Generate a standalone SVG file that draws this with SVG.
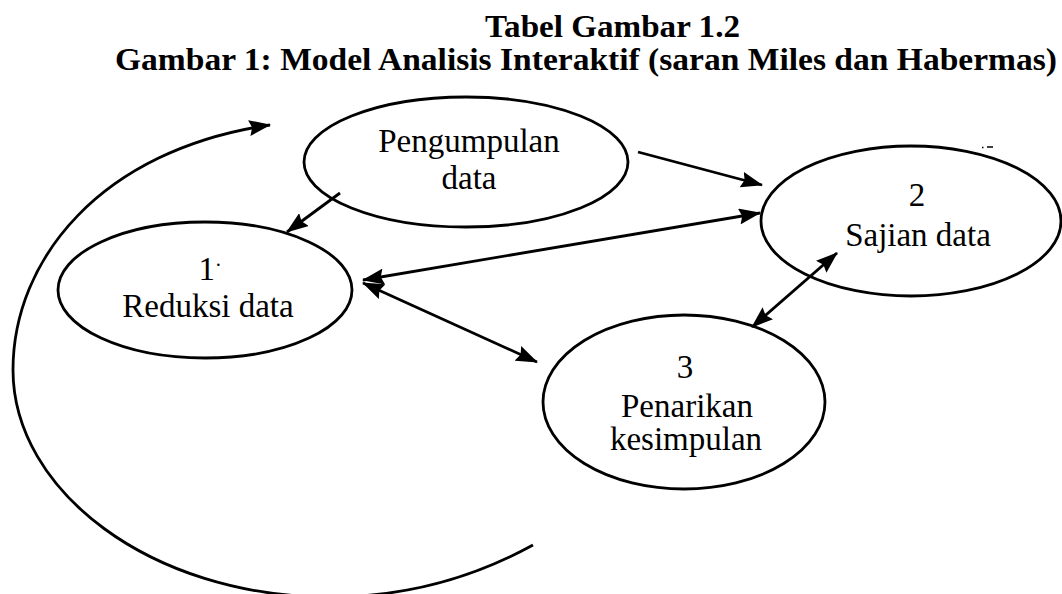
<svg xmlns="http://www.w3.org/2000/svg" width="1062" height="594" viewBox="0 0 1062 594">
  <style>
    .title { font-family: "Liberation Serif", "Times New Roman", serif; font-weight: bold; font-size: 31px; fill: #000; }
    .label { font-family: "Liberation Serif", "Times New Roman", serif; font-size: 33px; fill: #000; text-anchor: middle; }
    .node { fill: #fff; stroke: #000; stroke-width: 2.8; }
    .link { fill: none; stroke: #000; stroke-width: 2.8; }
  </style>
  <defs>
    <marker id="head" viewBox="0 0 22 16" refX="21" refY="8" markerWidth="22" markerHeight="16" markerUnits="userSpaceOnUse" orient="auto-start-reverse">
      <path d="M0,0 L22,8 L0,16 L3,8 z" fill="#000"/>
    </marker>
  </defs>

  <rect width="1062" height="594" fill="#fff"/>

  <!-- heading -->
  <g id="heading">
    <text class="title" x="485" y="37" textLength="255" lengthAdjust="spacingAndGlyphs">Tabel Gambar 1.2</text>
    <text class="title" x="115" y="70" textLength="942" lengthAdjust="spacingAndGlyphs">Gambar 1: Model Analisis Interaktif (saran Miles dan Habermas)</text>
  </g>

  <!-- nodes -->
  <g id="pengumpulan">
    <ellipse class="node" cx="466" cy="162" rx="162" ry="65"/>
    <text class="label" x="469" y="152">Pengumpulan</text>
    <text class="label" x="469" y="189">data</text>
  </g>

  <g id="reduksi">
    <ellipse class="node" cx="205" cy="290" rx="147" ry="68"/>
    <text class="label" x="210" y="280">1<tspan font-size="20" dy="-8">·</tspan></text>
    <text class="label" x="208" y="317">Reduksi data</text>
  </g>

  <g id="sajian">
    <ellipse class="node" cx="911" cy="221" rx="150" ry="75"/>
    <text class="label" x="917" y="206">2</text>
    <text class="label" x="918" y="246">Sajian data</text>
  </g>

  <g id="penarikan">
    <ellipse class="node" cx="684" cy="402" rx="141" ry="87"/>
    <text class="label" x="685" y="378">3</text>
    <text class="label" x="687" y="417">Penarikan</text>
    <text class="label" x="686" y="450">kesimpulan</text>
  </g>

  <!-- connectors -->
  <g id="connectors">
    <line class="link" x1="638" y1="152" x2="762" y2="185" marker-end="url(#head)"/>
    <line class="link" x1="340" y1="193" x2="287" y2="232" marker-end="url(#head)"/>
    <line class="link" x1="363" y1="280" x2="760" y2="213" marker-start="url(#head)" marker-end="url(#head)"/>
    <line class="link" x1="363" y1="283" x2="537" y2="362" marker-start="url(#head)" marker-end="url(#head)"/>
    <line class="link" x1="752" y1="327" x2="837" y2="253" marker-start="url(#head)" marker-end="url(#head)"/>
    <path class="link" d="M533,545 C460,585 390,597 330,597 C150,597 13,490 13,370 C13,260 100,150 270,125" marker-end="url(#head)"/>
  </g>

  <!-- small mark above the right ellipse -->
  <path d="M982,147.5 h1.5 M987,147 h6" stroke="#000" stroke-width="1.4"/>
</svg>
